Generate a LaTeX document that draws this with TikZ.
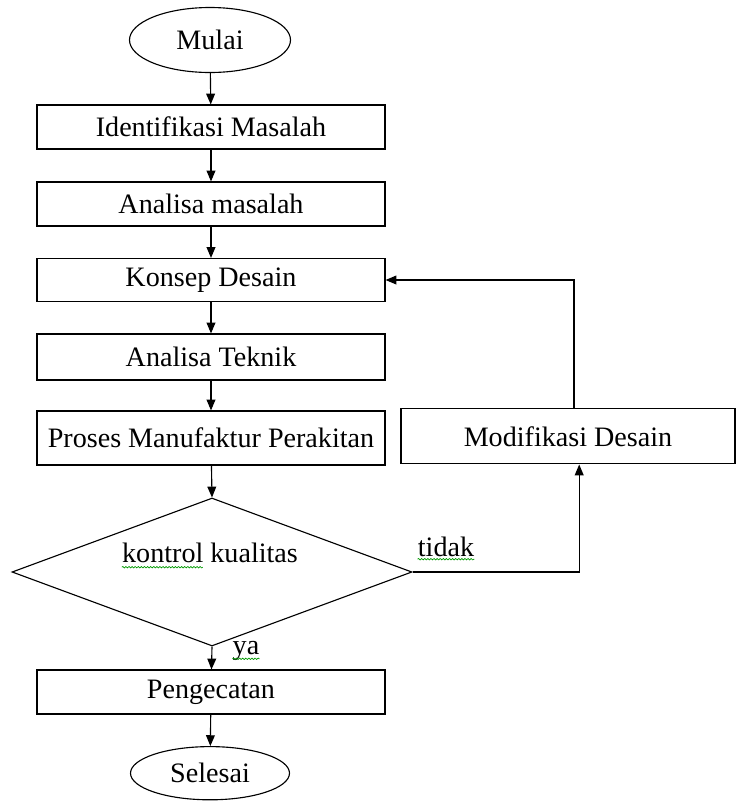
\documentclass[tikz,border=0pt]{standalone}
\usepackage{fontspec}
\setmainfont{Liberation Serif}
\usetikzlibrary{shapes.geometric,arrows.meta,decorations.pathmorphing}
\begin{document}
\begin{tikzpicture}[myb/.style={rectangle, draw, line width=0.8pt, minimum width=8.7cm, minimum height=1.1cm, font=\fontsize{20}{24}\selectfont},
  mye/.style={ellipse, draw, line width=0.8pt, inner sep=0pt, font=\fontsize{20}{24}\selectfont},
  myd/.style={diamond, draw, line width=0.8pt, inner sep=0pt, minimum width=10cm, minimum height=3.7cm},
  myt/.style={font=\fontsize{20}{24}\selectfont, inner sep=0pt, anchor=base},
  mya/.style={line width=0.8pt, -{Triangle[length=0.27cm, width=0.22cm]}},
  myw/.style={green!60!black, line width=0.5pt, decorate, decoration={snake, amplitude=0.5pt, segment length=2.2pt}}]
  \useasboundingbox (0,0) rectangle (18.4,-20.05);

  \node[mye, minimum width=4.025cm, minimum height=1.625cm] (mulai) at (5.25,-1.0) {Mulai};
  \node[myb] (ident) at (5.275,-3.175) {Identifikasi Masalah};
  \node[myb] (anmas) at (5.275,-5.1) {Analisa masalah};
  \node[myb, minimum height=1.075cm] (konsep) at (5.275,-7.0) {Konsep Desain};
  \node[myb, minimum height=1.15cm] (antek) at (5.275,-8.925) {Analisa Teknik};
  \node[myb, minimum height=1.35cm] (proses) at (5.275,-10.95) {Proses Manufaktur Perakitan};
  \node[myb, minimum width=8.35cm, minimum height=1.375cm] (modif) at (14.2,-10.91) {Modifikasi Desain};
  \node[myd] (kontrol) at (5.3,-14.3) {};
  \node[myt] (ktxt) at (5.25,-14.05) {kontrol kualitas};
  \node[myt] (tidak) at (11.15,-13.9) {tidak};
  \node[myt] (ya) at (6.15,-16.37) {ya};
  \node[myb] (cat) at (5.275,-17.3) {Pengecatan};
  \node[mye, minimum width=3.975cm, minimum height=1.33cm] (selesai) at (5.25,-19.33) {Selesai};

  \draw [mya] (mulai) -- (ident);
  \draw [mya] (ident) -- (anmas);
  \draw [mya] (anmas) -- (konsep);
  \draw [mya] (konsep) -- (antek);
  \draw [mya] (antek) -- (proses);
  \draw [mya] (proses) -- (kontrol.north);
  \draw [mya] (kontrol.south) -- (cat);
  \draw [mya] (cat) -- (selesai);
  \draw [mya] (kontrol.east) -| ([xshift=0.28cm]modif.south);
  \draw [mya] ([xshift=0.15cm]modif.north) |- (konsep.east);

  \draw [myw] ([yshift=-0.13cm]ktxt.base west) -- ++(2.02,0);
  \draw [myw] ([yshift=-0.08cm]tidak.base west) -- ([yshift=-0.08cm]tidak.base east);
  \draw [myw] ([yshift=-0.1cm]ya.base west) -- ([yshift=-0.1cm]ya.base east);
\end{tikzpicture}
\end{document}
